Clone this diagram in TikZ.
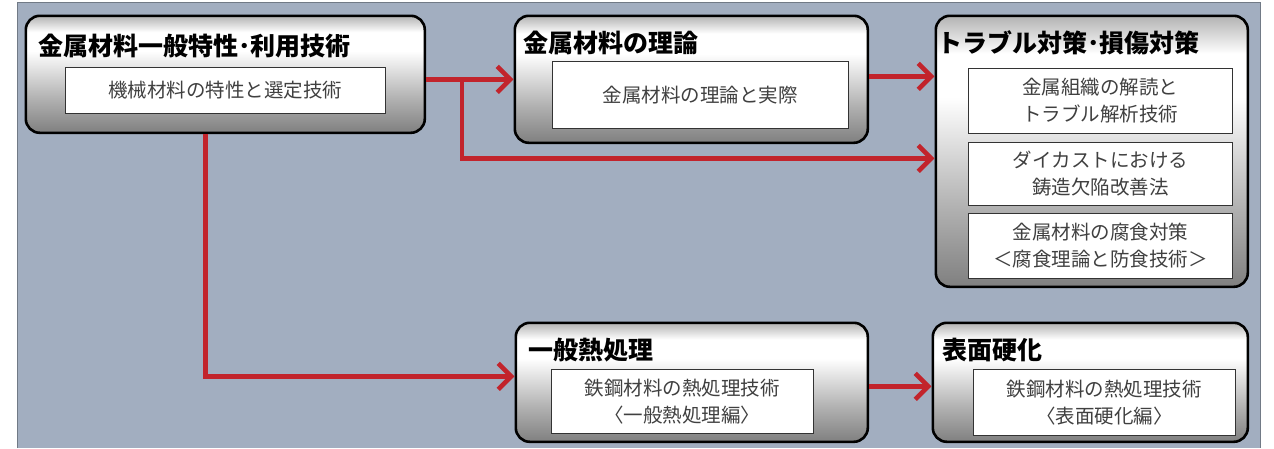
\documentclass[tikz,border=0pt]{standalone}
\usepackage{fontspec}
\setmainfont{Noto Sans CJK JP}
\usetikzlibrary{arrows.meta}

\definecolor{panelblue}{RGB}{162,174,192}
\definecolor{linkred}{RGB}{194,36,44}
\pgfdeclareverticalshading{boxshade}{100bp}{color(0bp)=(black!50); color(25bp)=(black!50); color(40bp)=(black!30); color(60bp)=(white); color(68bp)=(white); color(75bp)=(black!30); color(100bp)=(black!30)}

\begin{document}
\begin{tikzpicture}[x=1pt,y=-1pt,
    box/.style={draw=black, line width=2.6pt, rounded corners=14pt, shading=boxshade, anchor=north west, inner sep=0pt},
    title/.style={anchor=west, inner sep=0pt, font=\fontsize{25}{30}\selectfont\bfseries},
    course/.style={draw=black!80, line width=0.8pt, fill=white, anchor=north west, inner sep=0pt, align=center, text=black!75, font=\fontsize{19.5}{27}\selectfont},
    link/.style={draw=linkred, line width=4.6pt, -{Straight Barb[length=13pt,width=26pt]}}]
    \useasboundingbox (0,0) rectangle (1274,448);
    \fill[panelblue] (17,2.5) rectangle (1260,448);
    \draw[panelblue!70!black, line width=1pt] (17,448) -- (17,2.5) -- (1260,2.5) -- (1260,448);

    \node[box, minimum width=399pt, minimum height=117pt] (box1) at (24.5,14.5) {};
    \node[box, minimum width=353pt, minimum height=127pt] (box2) at (513.5,14.5) {};
    \node[box, minimum width=312pt, minimum height=271pt] (box3) at (934.5,14.5) {};
    \node[box, minimum width=352pt, minimum height=119pt] (box4) at (514.5,321.5) {};
    \node[box, minimum width=315pt, minimum height=119pt] (box5) at (931.5,321.5) {};

    \node[title] (t1) at (38,46) {金属材料一般特性･利用技術};
    \node[title] (t2) at (523,43) {金属材料の理論};
    \node[title] (t3) at (937,43) {トラブル対策･損傷対策};
    \node[title] (t4) at (528,350) {一般熱処理};
    \node[title] (t5) at (942,350) {表面硬化};

    \node[course, minimum width=320pt, minimum height=46pt] (c1) at (65,67) {機械材料の特性と選定技術};
    \node[course, minimum width=296pt, minimum height=67pt] (c2) at (552,61) {金属材料の理論と実際};
    \node[course, minimum width=264pt, minimum height=65pt] (c3) at (968,68) {金属組織の解読と\\トラブル解析技術};
    \node[course, minimum width=264pt, minimum height=63pt] (c4) at (968,142) {ダイカストにおける\\鋳造欠陥改善法};
    \node[course, minimum width=264pt, minimum height=65pt] (c5) at (968,213) {金属材料の腐食対策\\＜腐食理論と防食技術＞};
    \node[course, minimum width=262pt, minimum height=64pt] (c6) at (551,369) {鉄鋼材料の熱処理技術\\〈一般熱処理編〉};
    \node[course, minimum width=262pt, minimum height=66pt] (c7) at (973,369) {鉄鋼材料の熱処理技術\\〈表面硬化編〉};

    \coordinate (fork) at (462,78);
    \draw[link] (box1.east |- box2.west) -- (box2.west);
    \draw[link] (fork) |- ([yshift=-7pt]box3.west);
    \draw[link] ([yshift=3pt]box2.east) -- ([yshift=75pt]box3.west);
    \draw[link] ([xshift=-20pt]box1.south) |- ([yshift=6pt]box4.west);
    \draw[link] ([yshift=-4pt]box4.east) -- ([yshift=-4pt]box5.west);
\end{tikzpicture}
\end{document}
